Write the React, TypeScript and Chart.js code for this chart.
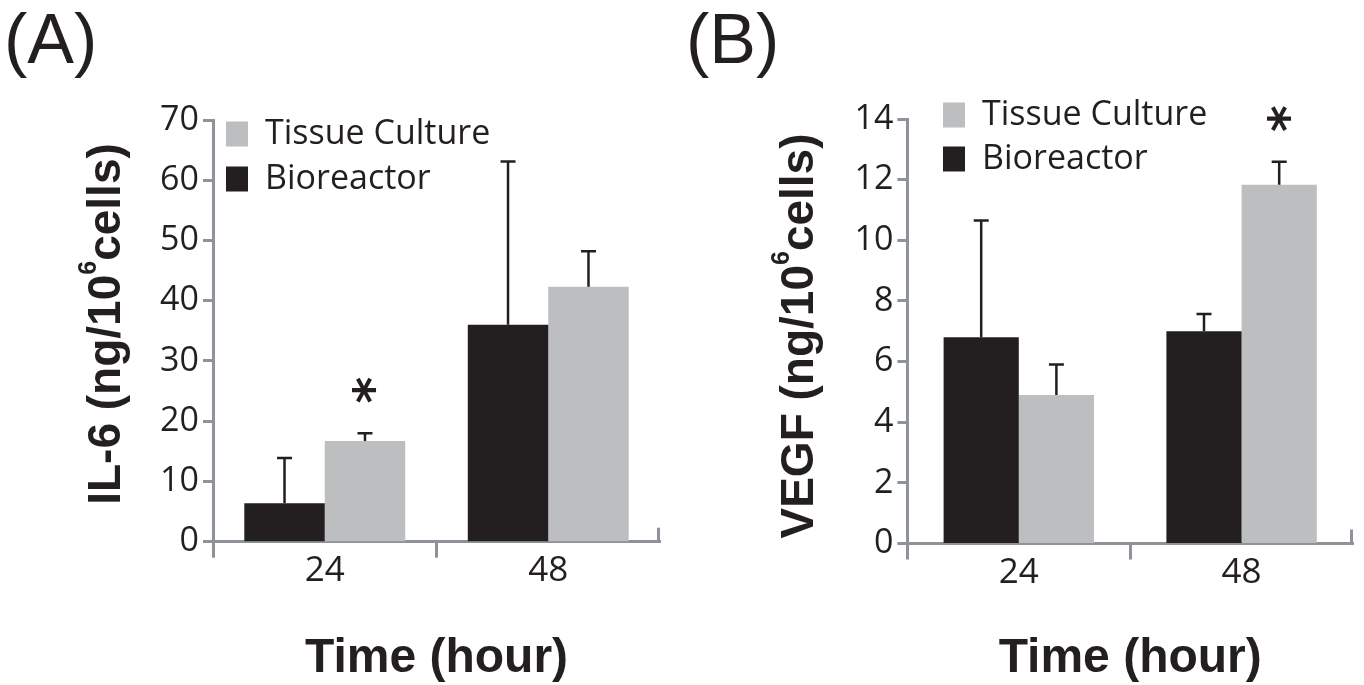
import React, { useEffect, useRef } from 'react';
import { Chart, registerables } from 'chart.js';

Chart.register(...registerables);

// ---------------- DATA ----------------
const categories = ['24', '48'];
const seriesNames = ['Bioreactor', 'Tissue Culture'];

// Panel A: IL-6
const il6Bioreactor = [6.4, 36.0];
const il6BioreactorErr = [7.5, 27.1];
const il6Tissue = [16.7, 42.3];
const il6TissueErr = [1.3, 5.9];
const il6BioreactorStars = ['', ''];
const il6TissueStars = ['*', ''];
const il6YTicks = [0, 10, 20, 30, 40, 50, 60, 70];

// Panel B: VEGF
const vegfBioreactor = [6.8, 7.0];
const vegfBioreactorErr = [3.85, 0.57];
const vegfTissue = [4.9, 11.83];
const vegfTissueErr = [1.0, 0.76];
const vegfBioreactorStars = ['', ''];
const vegfTissueStars = ['', '*'];
const vegfYTicks = [0, 2, 4, 6, 8, 10, 12, 14];

const panelLabels = ['(A)', '(B)'];
const yTitleLeads = ['IL-6 (ng/10', 'VEGF (ng/10'];
const yTitleSup = '6';
const yTitleTail = 'cells)';
const xTitle = 'Time (hour)';

// ---------------- STYLE ----------------
const INK = '#231f20';
const GRAY_BAR = '#bcbec0';
const AXIS = '#8d9399';
const CANVAS_W = 682;
const CANVAS_H = 685;
const BOLD_FONT = "'Liberation Sans', Arial, sans-serif";

Chart.defaults.font.family = "'Open Sans', sans-serif";
Chart.defaults.color = INK;

const errorBarPlugin = {
  id: 'errorBars',
  afterDatasetsDraw(chart: any, _args: any, opts: any) {
    const ctx = chart.ctx;
    const y = chart.scales.y;
    chart.data.datasets.forEach((ds: any, i: number) => {
      const meta = chart.getDatasetMeta(i);
      meta.data.forEach((el: any, j: number) => {
        const v = ds.data[j];
        const e = ds.errors[j];
        const top = y.getPixelForValue(v + e);
        ctx.save();
        ctx.strokeStyle = INK;
        ctx.lineWidth = 2.5;
        ctx.beginPath();
        ctx.moveTo(el.x, el.y);
        ctx.lineTo(el.x, top);
        ctx.moveTo(el.x - 7.5, top);
        ctx.lineTo(el.x + 7.5, top);
        ctx.stroke();
        const s = ds.stars[j];
        if (s) {
          const cy = top - opts.starGap;
          ctx.font = `bold 100px 'DejaVu Sans'`;
          const m0 = ctx.measureText(s);
          const gw = m0.actualBoundingBoxRight + m0.actualBoundingBoxLeft;
          // glyph is rotated 90deg, so its width becomes the vertical extent
          const size = (100 * opts.starHeight) / gw;
          ctx.translate(el.x, cy);
          ctx.rotate(Math.PI / 2);
          ctx.font = `bold ${size}px 'DejaVu Sans'`;
          ctx.fillStyle = INK;
          ctx.textAlign = 'left';
          ctx.textBaseline = 'alphabetic';
          const m = ctx.measureText(s);
          const bx = (m.actualBoundingBoxLeft - m.actualBoundingBoxRight) / 2;
          const by = (m.actualBoundingBoxAscent - m.actualBoundingBoxDescent) / 2;
          ctx.fillText(s, bx, by);
        }
        ctx.restore();
      });
    });
  },
};

const legendPlacePlugin = {
  id: 'legendPlace',
  afterLayout(chart: any, _args: any, opts: any) {
    const l = chart.legend;
    if (!l) return;
    const w = l.width;
    const h = l.height;
    l.left = opts.left;
    l.right = opts.left + w;
    l.top = opts.top;
    l.bottom = opts.top + h;
  },
};

const axisEndPlugin = {
  id: 'axisEnd',
  afterDraw(chart: any) {
    const ctx = chart.ctx;
    const { right, bottom } = chart.chartArea;
    ctx.save();
    ctx.strokeStyle = AXIS;
    ctx.lineWidth = 3;
    ctx.beginPath();
    ctx.moveTo(right - 1.5, bottom);
    ctx.lineTo(right - 1.5, bottom - 14);
    ctx.stroke();
    ctx.restore();
  },
};

// y-axis title with a true superscript
const yTitlePlugin = {
  id: 'yTitleSup',
  afterDraw(chart: any, _args: any, opts: any) {
    const ctx = chart.ctx;
    const mainFont = `bold ${opts.size}px ${BOLD_FONT}`;
    const supFont = `bold ${opts.supSize}px ${BOLD_FONT}`;
    ctx.save();
    ctx.font = mainFont;
    const w1 = ctx.measureText(opts.lead).width;
    const w3 = ctx.measureText(opts.tail).width;
    ctx.font = supFont;
    const w2 = ctx.measureText(opts.sup).width;
    const total = w1 + w2 + w3;
    ctx.translate(opts.baselineX, opts.centerY);
    ctx.rotate(-Math.PI / 2);
    ctx.fillStyle = INK;
    ctx.textAlign = 'left';
    ctx.textBaseline = 'alphabetic';
    let x = -total / 2;
    ctx.font = mainFont;
    ctx.fillText(opts.lead, x, 0);
    x += w1;
    ctx.font = supFont;
    ctx.fillText(opts.sup, x, -opts.supRaise);
    x += w2;
    ctx.font = mainFont;
    ctx.fillText(opts.tail, x, 0);
    ctx.restore();
  },
};

type Panel = {
  label: string;
  yLead: string;
  bio: number[];
  bioErr: number[];
  bioStars: string[];
  tissue: number[];
  tissueErr: number[];
  tissueStars: string[];
  yTicks: number[];
  yAxisRight: number;
  chartRight: number;
  chartBottom: number;
  titlePadBottom: number;
  yTitleBaselineX: number;
  yTitleCenterY: number;
  catPct: number;
  legendLeft: number;
  legendTop: number;
  legendPad: number;
};

function makeConfig(p: Panel): any {
  const padLeft = 4;
  return {
    type: 'bar',
    data: {
      labels: categories,
      datasets: [
        {
          label: seriesNames[0],
          data: p.bio,
          errors: p.bioErr,
          stars: p.bioStars,
          backgroundColor: INK,
          borderWidth: 0,
          categoryPercentage: p.catPct,
          barPercentage: 1,
        },
        {
          label: seriesNames[1],
          data: p.tissue,
          errors: p.tissueErr,
          stars: p.tissueStars,
          backgroundColor: GRAY_BAR,
          borderWidth: 0,
          categoryPercentage: p.catPct,
          barPercentage: 1,
        },
      ],
    },
    options: {
      responsive: false,
      animation: false,
      layout: { padding: { left: padLeft, right: CANVAS_W - p.chartRight, top: 0, bottom: 0 } },
      plugins: {
        title: {
          display: true,
          text: p.label,
          align: 'start',
          color: INK,
          font: { family: BOLD_FONT, size: 70, weight: 'normal', lineHeight: 1 },
          padding: { top: 9, bottom: p.titlePadBottom },
        },
        legend: {
          display: true,
          position: 'chartArea',
          align: 'start',
          reverse: true,
          labels: {
            boxWidth: 22,
            boxHeight: 25,
            padding: p.legendPad,
            color: INK,
            font: { family: "'Open Sans', sans-serif", size: 34, lineHeight: 1 },
          },
        },
        tooltip: { enabled: false },
        legendPlace: { left: p.legendLeft, top: p.legendTop },
        errorBars: { starGap: 43, starHeight: 25 },
        yTitleSup: {
          lead: p.yLead,
          sup: yTitleSup,
          tail: yTitleTail,
          size: 46,
          supSize: 25,
          supRaise: 24,
          baselineX: p.yTitleBaselineX,
          centerY: p.yTitleCenterY,
        },
      },
      scales: {
        x: {
          offset: true,
          grid: {
            offset: true,
            drawOnChartArea: false,
            drawTicks: true,
            tickLength: 16,
            tickWidth: 3,
            tickColor: (c: any) => (c.type === 'scale' || c.index === undefined ? 'rgba(0,0,0,0)' : AXIS),
          },
          border: { display: true, color: AXIS, width: 3 },
          ticks: {
            color: INK,
            padding: -4,
            font: { family: "'Open Sans', sans-serif", size: 35, lineHeight: 1 },
          },
          title: {
            display: true,
            text: xTitle,
            color: INK,
            font: { family: BOLD_FONT, size: 48, weight: 'bold', lineHeight: 1 },
            padding: { top: 0, bottom: 2 },
          },
          afterFit: (s: any) => {
            s.height = CANVAS_H - p.chartBottom;
          },
        },
        y: {
          min: p.yTicks[0],
          max: p.yTicks[p.yTicks.length - 1],
          ticks: {
            stepSize: p.yTicks[1] - p.yTicks[0],
            color: INK,
            padding: 4,
            font: { family: "'Open Sans', sans-serif", size: 34, lineHeight: 1 },
          },
          grid: {
            drawOnChartArea: false,
            drawTicks: true,
            tickLength: 10,
            tickWidth: 3,
            tickColor: AXIS,
            color: AXIS,
          },
          border: { display: true, color: AXIS, width: 3 },
          title: { display: false },
          afterFit: (s: any) => {
            s.width = p.yAxisRight - padLeft;
          },
        },
      },
    },
    plugins: [errorBarPlugin, legendPlacePlugin, axisEndPlugin, yTitlePlugin],
  };
}

const panelA: Panel = {
  label: panelLabels[0],
  yLead: yTitleLeads[0],
  bio: il6Bioreactor,
  bioErr: il6BioreactorErr,
  bioStars: il6BioreactorStars,
  tissue: il6Tissue,
  tissueErr: il6TissueErr,
  tissueStars: il6TissueStars,
  yTicks: il6YTicks,
  yAxisRight: 213,
  chartRight: 660,
  chartBottom: 541.7,
  titlePadBottom: 41,
  yTitleBaselineX: 120,
  yTitleCenterY: 324,
  catPct: 0.72,
  legendLeft: 215,
  legendTop: 106,
  legendPad: 11,
};

const panelB: Panel = {
  label: panelLabels[1],
  yLead: yTitleLeads[1],
  bio: vegfBioreactor,
  bioErr: vegfBioreactorErr,
  bioStars: vegfBioreactorStars,
  tissue: vegfTissue,
  tissueErr: vegfTissueErr,
  tissueStars: vegfTissueStars,
  yTicks: vegfYTicks,
  yAxisRight: 225.4,
  chartRight: 671,
  chartBottom: 543.5,
  titlePadBottom: 40,
  yTitleBaselineX: 131,
  yTitleCenterY: 336,
  catPct: 0.675,
  legendLeft: 251,
  legendTop: 88,
  legendPad: 10,
};

export default function App() {
  const refA = useRef<HTMLCanvasElement>(null);
  const refB = useRef<HTMLCanvasElement>(null);
  useEffect(() => {
    document.body.style.margin = '0';
    const a = new Chart(refA.current as HTMLCanvasElement, makeConfig(panelA));
    const b = new Chart(refB.current as HTMLCanvasElement, makeConfig(panelB));
    return () => {
      a.destroy();
      b.destroy();
    };
  }, []);
  return (
    <div style={{ position: 'absolute', left: 0, top: 0, width: 1364, height: 685, background: '#ffffff' }}>
      <canvas ref={refA} width={CANVAS_W} height={CANVAS_H} style={{ position: 'absolute', left: 0, top: 0 }} />
      <canvas ref={refB} width={CANVAS_W} height={CANVAS_H} style={{ position: 'absolute', left: 682, top: 0 }} />
    </div>
  );
}
